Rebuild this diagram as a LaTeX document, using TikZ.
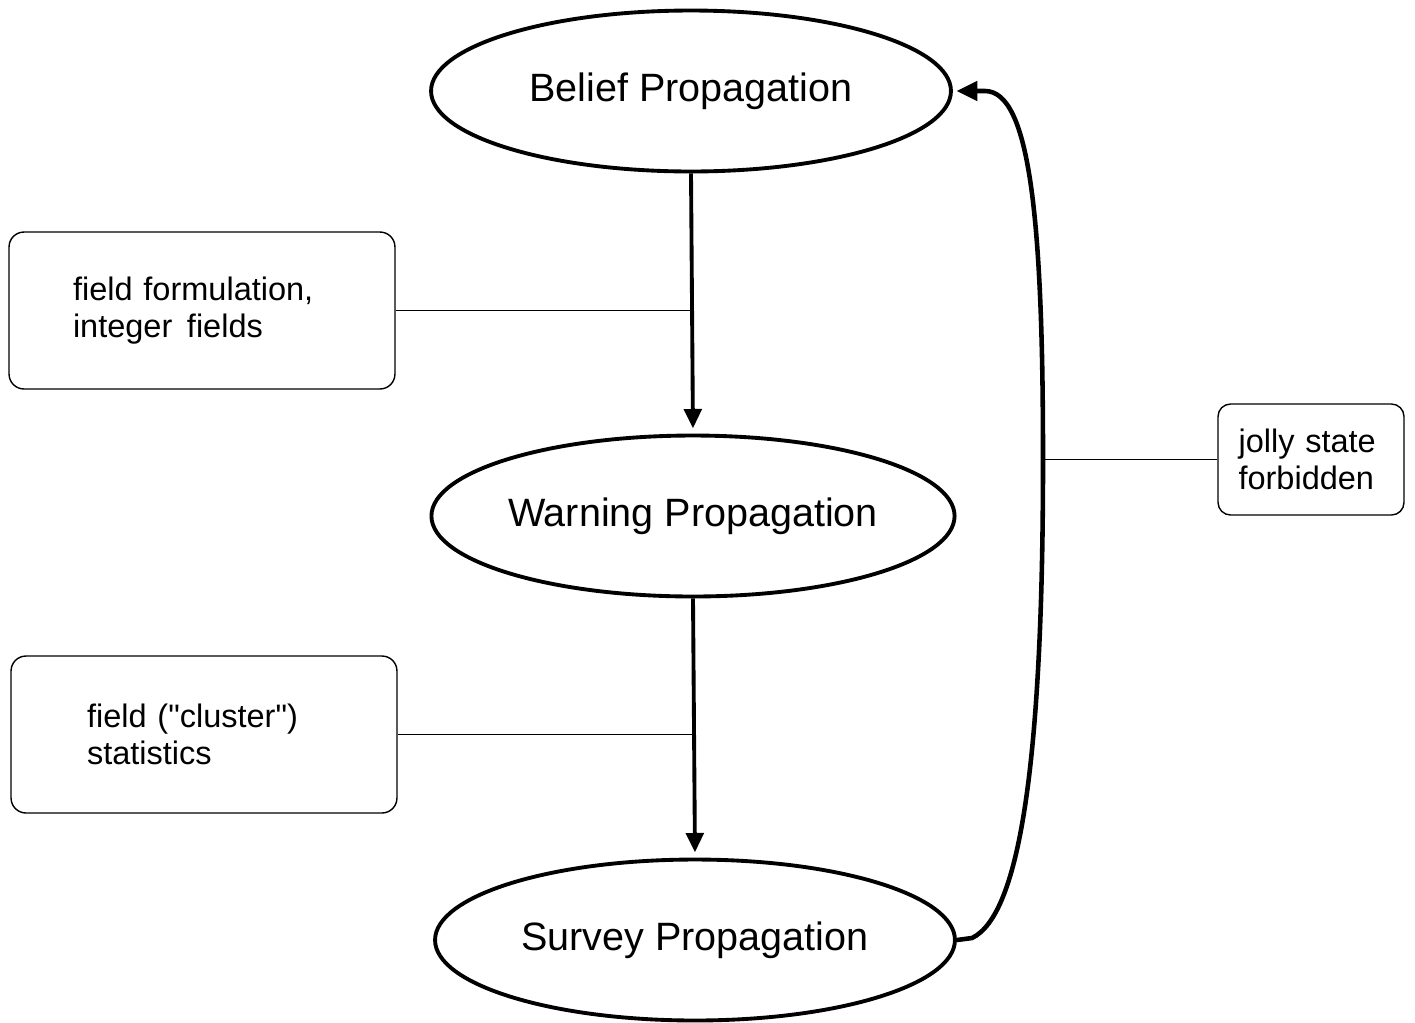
\documentclass[tikz,border=0pt]{standalone}
\usepackage{fontspec}
\setmainfont{Liberation Sans}[Ligatures=TeXOff]
\usetikzlibrary{shapes.geometric,arrows.meta}
\begin{document}
\begin{tikzpicture}[x=0.02cm,y=-0.02cm,
  prop/.style={ellipse,draw,line width=2.2pt,minimum width=10.4cm,minimum height=3.22cm,inner sep=0pt,font=\fontsize{22.5}{26}\selectfont},
  note/.style={draw,line width=0.8pt,rounded corners=0.3cm,align=left,inner ysep=0pt,font=\fontsize{18.5}{21.2}\selectfont},
  flow/.style={line width=2.2pt,-{Triangle[length=11pt,width=10pt]},shorten >=3pt},
  link/.style={line width=0.8pt},
  back/.style={line width=2.6pt,-{Triangle[length=12pt,width=11pt]},shorten >=2pt}]
\useasboundingbox (0,0) rectangle (1415,1022);
\node[prop] (bp) at (691,91) {Belief Propagation};
\node[prop] (wp) at (693,516) {Warning Propagation};
\node[prop] (sp) at (695,940) {Survey Propagation};
\node[note,text width=5.16cm,inner xsep=1.28cm,minimum height=3.14cm] (n1) at (202,310.5) {field formulation,\\integer\hspace{0.45em}fields};
\node[note,text width=4.68cm,inner xsep=1.52cm,minimum height=3.14cm] (n2) at (204,734.5) {field ("cluster")\\statistics};
\node[note,text width=2.9cm,inner xsep=0.41cm,minimum height=2.22cm,rounded corners=0.25cm] (n3) at (1311,459.5) {jolly state\\forbidden};
\draw[flow] (bp.south) -- (wp.north);
\draw[flow] (wp.south) -- (sp.north);
\coordinate (j) at (1043,459.5);
\draw[link] (n1.east) -- (n1.east -| bp.south);
\draw[link] (n2.east) -- (n2.east -| wp.south);
\draw[link] (n3.west) -- (j);
\draw[back] (sp.east) -- (972,938) .. controls (1020,915) and (1043,760) .. (j)
  .. controls (1043,220) and (1030,91) .. (985,91) -- (bp.east);
\end{tikzpicture}
\end{document}
